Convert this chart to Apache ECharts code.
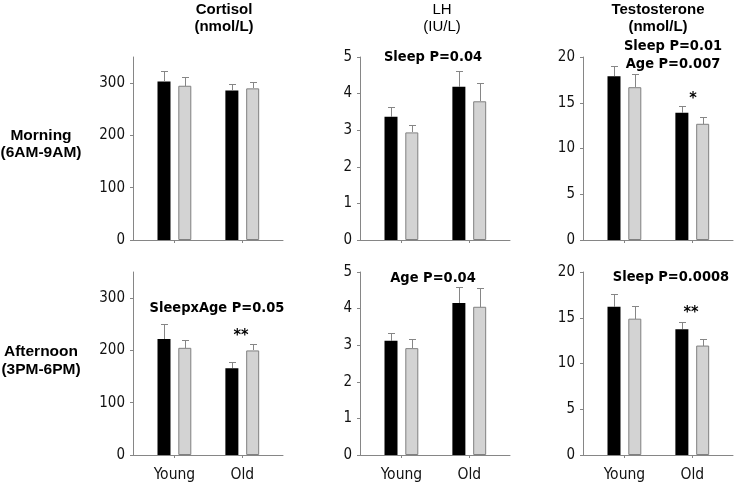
<!DOCTYPE html>
<html>
<head>
<meta charset="utf-8">
<script src="https://cdn.jsdelivr.net/npm/echarts@6/dist/echarts.min.js"></script>
<style>html,body{margin:0;padding:0;background:#fff;}#c{width:736px;height:486px;}</style>
</head>
<body>
<div id="c"></div>
<script>
// ---- data ----
const categories = ['Young', 'Old'];
const groups = ['Sleep (black)', 'Sleep restricted (gray)'];

// Morning (6AM-9AM)
const cortMorningBlack = [303, 286];
const cortMorningBlackErr = [21, 13];
const cortMorningGray = [295, 290];
const cortMorningGrayErr = [17, 13];
const lhMorningBlack = [3.37, 4.19];
const lhMorningBlackErr = [0.26, 0.42];
const lhMorningGray = [2.94, 3.79];
const lhMorningGrayErr = [0.20, 0.49];
const testoMorningBlack = [17.9, 13.9];
const testoMorningBlackErr = [1.15, 0.7];
const testoMorningGray = [16.7, 12.7];
const testoMorningGrayErr = [1.45, 0.7];

// Afternoon (3PM-6PM)
const cortAfternoonBlack = [222, 166];
const cortAfternoonBlackErr = [29, 12];
const cortAfternoonGray = [205, 200];
const cortAfternoonGrayErr = [15, 13];
const lhAfternoonBlack = [3.12, 4.15];
const lhAfternoonBlackErr = [0.22, 0.45];
const lhAfternoonGray = [2.92, 4.05];
const lhAfternoonGrayErr = [0.26, 0.51];
const testoAfternoonBlack = [16.2, 13.75];
const testoAfternoonBlackErr = [1.4, 0.76];
const testoAfternoonGray = [14.9, 11.96];
const testoAfternoonGrayErr = [1.42, 0.73];

// axis ticks
const cortTicks = [0, 100, 200, 300];
const lhTicks = [0, 1, 2, 3, 4, 5];
const testoTicks = [0, 5, 10, 15, 20];

const panelTitles = [['Cortisol', '(nmol/L)'], ['LH', '(IU/L)'], ['Testosterone', '(nmol/L)']];
const rowLabels = [['Morning', '(6AM-9AM)'], ['Afternoon', '(3PM-6PM)']];
const annotations = [
  ['', 'Sleep P=0.04', 'Sleep P=0.01', 'Age P=0.007', '*'],
  ['SleepxAge P=0.05', '**', 'Age P=0.04', 'Sleep P=0.0008', '**']
];

// ---- layout ----
const AXIS = '#868686';
const colLeft = [133, 360, 583];
const rowTop = [57, 272];
const W = 150, H = 183;
const BAR_W = 13, BAR_GAP = 0.6;
const OFF = (BAR_W + BAR_W * BAR_GAP) / 2;
const TICK_FONT = '"DejaVu Sans Condensed", "DejaVu Sans", Tahoma, sans-serif';

const panels = [
  {r:0,c:0,max:350,ticks:cortTicks,b:cortMorningBlack,be:cortMorningBlackErr,g:cortMorningGray,ge:cortMorningGrayErr},
  {r:0,c:1,max:5,ticks:lhTicks,b:lhMorningBlack,be:lhMorningBlackErr,g:lhMorningGray,ge:lhMorningGrayErr},
  {r:0,c:2,max:20,ticks:testoTicks,b:testoMorningBlack,be:testoMorningBlackErr,g:testoMorningGray,ge:testoMorningGrayErr},
  {r:1,c:0,max:350,ticks:cortTicks,b:cortAfternoonBlack,be:cortAfternoonBlackErr,g:cortAfternoonGray,ge:cortAfternoonGrayErr},
  {r:1,c:1,max:5,ticks:lhTicks,b:lhAfternoonBlack,be:lhAfternoonBlackErr,g:lhAfternoonGray,ge:lhAfternoonGrayErr},
  {r:1,c:2,max:20,ticks:testoTicks,b:testoAfternoonBlack,be:testoAfternoonBlackErr,g:testoAfternoonGray,ge:testoAfternoonGrayErr}
];

const grid = [], xAxis = [], yAxis = [], series = [];
const catIdx = categories.map((_, i) => i);

function errRenderer(offset) {
  return function (params, api) {
    const x = api.value(0), m = api.value(1), e = api.value(2);
    const p0 = api.coord([x, m]);
    const p1 = api.coord([x, m + e]);
    const cx = Math.round(p0[0] + offset) + 0.5;
    const yb = Math.round(p0[1]);
    const yt = Math.round(p1[1]) + 0.5;
    return {
      type: 'group',
      children: [
        {type: 'line', shape: {x1: cx, y1: yb, x2: cx, y2: yt}, style: {stroke: AXIS, lineWidth: 1}},
        {type: 'line', shape: {x1: cx - 3.5, y1: yt, x2: cx + 3.5, y2: yt}, style: {stroke: AXIS, lineWidth: 1}}
      ]
    };
  };
}

panels.forEach((p, i) => {
  grid.push({left: colLeft[p.c], top: rowTop[p.r], width: W, height: H});
  xAxis.push({
    gridIndex: i, type: 'value', min: -0.61, max: 1.6,
    splitLine: {show: false},
    axisLine: {show: true, onZero: false, lineStyle: {color: AXIS}},
    axisTick: {show: true, customValues: catIdx, length: 3, inside: false, lineStyle: {color: AXIS}},
    axisLabel: {
      show: p.r === 1, customValues: catIdx, margin: 12,
      formatter: v => categories[Math.round(v)] || '',
      fontFamily: TICK_FONT, fontSize: 15.5, color: '#111'
    }
  });
  yAxis.push({
    gridIndex: i, type: 'value', min: 0, max: p.max,
    splitLine: {show: false},
    axisLine: {show: true, onZero: false, lineStyle: {color: AXIS}},
    axisTick: {show: true, customValues: p.ticks, length: 3, lineStyle: {color: AXIS}},
    axisLabel: {customValues: p.ticks, margin: 8, fontFamily: TICK_FONT, fontSize: 15, color: '#111'}
  });
  series.push({
    type: 'bar', xAxisIndex: i, yAxisIndex: i, name: groups[0],
    barWidth: BAR_W, barGap: (BAR_GAP * 100) + '%',
    itemStyle: {color: '#000000', borderColor: '#000000', borderWidth: 0},
    data: p.b.map((v, k) => [k, v]), silent: true, z: 2
  });
  series.push({
    type: 'bar', xAxisIndex: i, yAxisIndex: i, name: groups[1],
    barWidth: BAR_W, barGap: (BAR_GAP * 100) + '%',
    itemStyle: {color: '#D3D3D3', borderColor: '#808080', borderWidth: 1},
    data: p.g.map((v, k) => [k, v]), silent: true, z: 2
  });
  series.push({
    type: 'custom', xAxisIndex: i, yAxisIndex: i, renderItem: errRenderer(-OFF),
    data: p.b.map((v, k) => [k, v, p.be[k]]), silent: true, z: 3
  });
  series.push({
    type: 'custom', xAxisIndex: i, yAxisIndex: i, renderItem: errRenderer(OFF),
    data: p.g.map((v, k) => [k, v, p.ge[k]]), silent: true, z: 3
  });
});

// text graphics
const graphic = [];
const titleX = [224, 442, 658];
panelTitles.forEach((t, c) => {
  const bold = c !== 1;
  graphic.push({type: 'text', x: titleX[c], y: 10, style: {text: t[0], align: 'center', verticalAlign: 'middle', font: (bold ? 'bold ' : '') + '15px "Liberation Sans", Arial', fill: '#000'}});
  graphic.push({type: 'text', x: titleX[c], y: 27, style: {text: t[1], align: 'center', verticalAlign: 'middle', font: (bold ? 'bold ' : '') + '15px "Liberation Sans", Arial', fill: '#000'}});
});
const rowY = [[136, 153], [352, 370]];
rowLabels.forEach((t, r) => {
  graphic.push({type: 'text', x: 41, y: rowY[r][0], style: {text: t[0], align: 'center', verticalAlign: 'middle', font: 'bold 15.5px "Liberation Sans", Arial', fill: '#000'}});
  graphic.push({type: 'text', x: 41, y: rowY[r][1], style: {text: t[1], align: 'center', verticalAlign: 'middle', font: 'bold 15.5px "Liberation Sans", Arial', fill: '#000'}});
});
const annFont = 'bold 14.5px "DejaVu Sans Condensed", "DejaVu Sans", Tahoma, sans-serif';
const starFont = 'bold 16px "DejaVu Sans Condensed", "DejaVu Sans", Tahoma, sans-serif';
function ann(text, x, y, font) {
  graphic.push({type: 'text', x, y, style: {text, align: 'center', verticalAlign: 'middle', font: font || annFont, fill: '#000'}});
}
ann(annotations[0][1], 433, 57);
ann(annotations[0][2], 673, 46);
ann(annotations[0][3], 673, 64);
ann(annotations[0][4], 693, 99, starFont);
ann(annotations[1][0], 217, 308);
ann(annotations[1][1], 241, 336, starFont);
ann(annotations[1][2], 433, 278);
ann(annotations[1][3], 671, 277);
ann(annotations[1][4], 691, 313, starFont);

const chart = echarts.init(document.getElementById('c'), null, {renderer: 'canvas'});
chart.setOption({
  backgroundColor: '#ffffff',
  animation: false,
  grid, xAxis, yAxis, series, graphic
});
</script>
</body>
</html>
